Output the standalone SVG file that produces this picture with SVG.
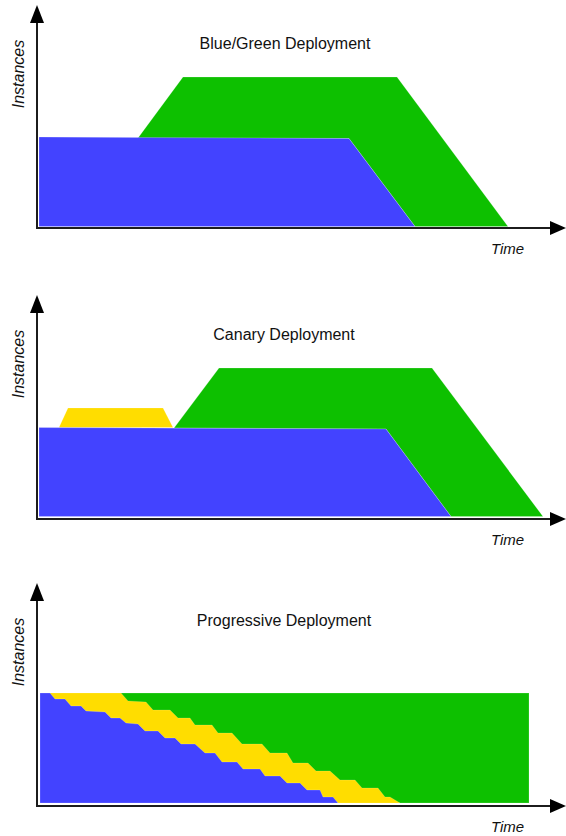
<svg xmlns="http://www.w3.org/2000/svg" width="566" height="836" viewBox="0 0 566 836">
<defs>
<style>
.blue{fill:#4343FF;stroke:#ffffff;stroke-opacity:0.2;stroke-width:1}
.green{fill:#0DC000;stroke:#ffffff;stroke-opacity:0.2;stroke-width:1}
.yellow{fill:#FFDD00;stroke:#ffffff;stroke-opacity:0.15;stroke-width:1}
.axis{stroke:#1c1c1c;stroke-width:2;fill:none}
.head{fill:#000}
.title{font-family:"Liberation Sans",Arial,sans-serif;font-size:16px;fill:#111;text-anchor:middle}
.lbl{font-family:"Liberation Sans",Arial,sans-serif;font-size:15px;font-style:italic;fill:#111}
</style>
</defs>
<rect width="566" height="836" fill="#ffffff"/>

<g id="chart-blue-green">
  <g id="bg-areas">
    <polygon class="green" points="138,138 183,77 397,77 508,226.5 415,226.5 349,138.5"/>
    <polygon class="blue" points="39,137 349,138.5 415,226.5 39,226.5"/>
  </g>
  <g id="bg-axes">
    <line class="axis" x1="37" y1="20" x2="37" y2="229"/>
    <line class="axis" x1="36" y1="228" x2="556" y2="228"/>
    <polygon class="head" points="37,5 30,23 44,23"/>
    <polygon class="head" points="566,228 550,221 550,235"/>
  </g>
  <text class="title" x="285" y="49">Blue/Green Deployment</text>
  <text class="lbl" transform="translate(24,74) rotate(-90)" text-anchor="middle" style="font-size:16px">Instances</text>
  <text class="lbl" x="491" y="254">Time</text>
</g>

<g id="chart-canary">
  <g id="ca-areas">
    <polygon class="green" points="174,428 219,368 432,368 543,516.5 451,516.5 386,429"/>
    <polygon class="yellow" points="59,427.5 68,408 163,408 173,427.5"/>
    <polygon class="blue" points="39,427.5 386,429 451,516.5 39,516.5"/>
  </g>
  <g id="ca-axes">
    <line class="axis" x1="37" y1="310" x2="37" y2="520"/>
    <line class="axis" x1="36" y1="519" x2="556" y2="519"/>
    <polygon class="head" points="37,295 30,313 44,313"/>
    <polygon class="head" points="566,519 550,512 550,526"/>
  </g>
  <text class="title" x="284" y="340">Canary Deployment</text>
  <text class="lbl" transform="translate(24,364) rotate(-90)" text-anchor="middle" style="font-size:16px">Instances</text>
  <text class="lbl" x="491" y="545">Time</text>
</g>

<g id="chart-progressive">
  <g id="pr-areas">
    <rect class="green" x="40" y="693" width="489" height="110"/>
    <polygon class="yellow" points="40,693 100,693 121,693 128,701 146,702 153,710 170,710 178,718 190,718 195,725 212,725 218,733 232,733 242,744 262,744 270,753 287,753 293,763 308,763 316,771 330,771 340,780 355,780 362,788 378,788 385,797 390,797 400,803 40,803"/>
    <polygon class="blue" points="40,693 50,693 55,699 65,699 71,706 81,706 86,711 105,712 111,718 120,718 126,723 138,724 145,731 158,731 165,738 175,738 181,744 195,744 205,753 215,753 222,762 237,762 243,769 260,769 265,776 280,776 287,783 300,783 307,790 320,790 323,797 333,797 338,803 40,803"/>
  </g>
  <g id="pr-axes">
    <line class="axis" x1="37" y1="598" x2="37" y2="807"/>
    <line class="axis" x1="36" y1="806" x2="556" y2="806"/>
    <polygon class="head" points="37,583 30,601 44,601"/>
    <polygon class="head" points="566,806 550,799 550,813"/>
  </g>
  <text class="title" x="284" y="626">Progressive Deployment</text>
  <text class="lbl" transform="translate(24,652) rotate(-90)" text-anchor="middle" style="font-size:16px">Instances</text>
  <text class="lbl" x="491" y="832">Time</text>
</g>
</svg>
